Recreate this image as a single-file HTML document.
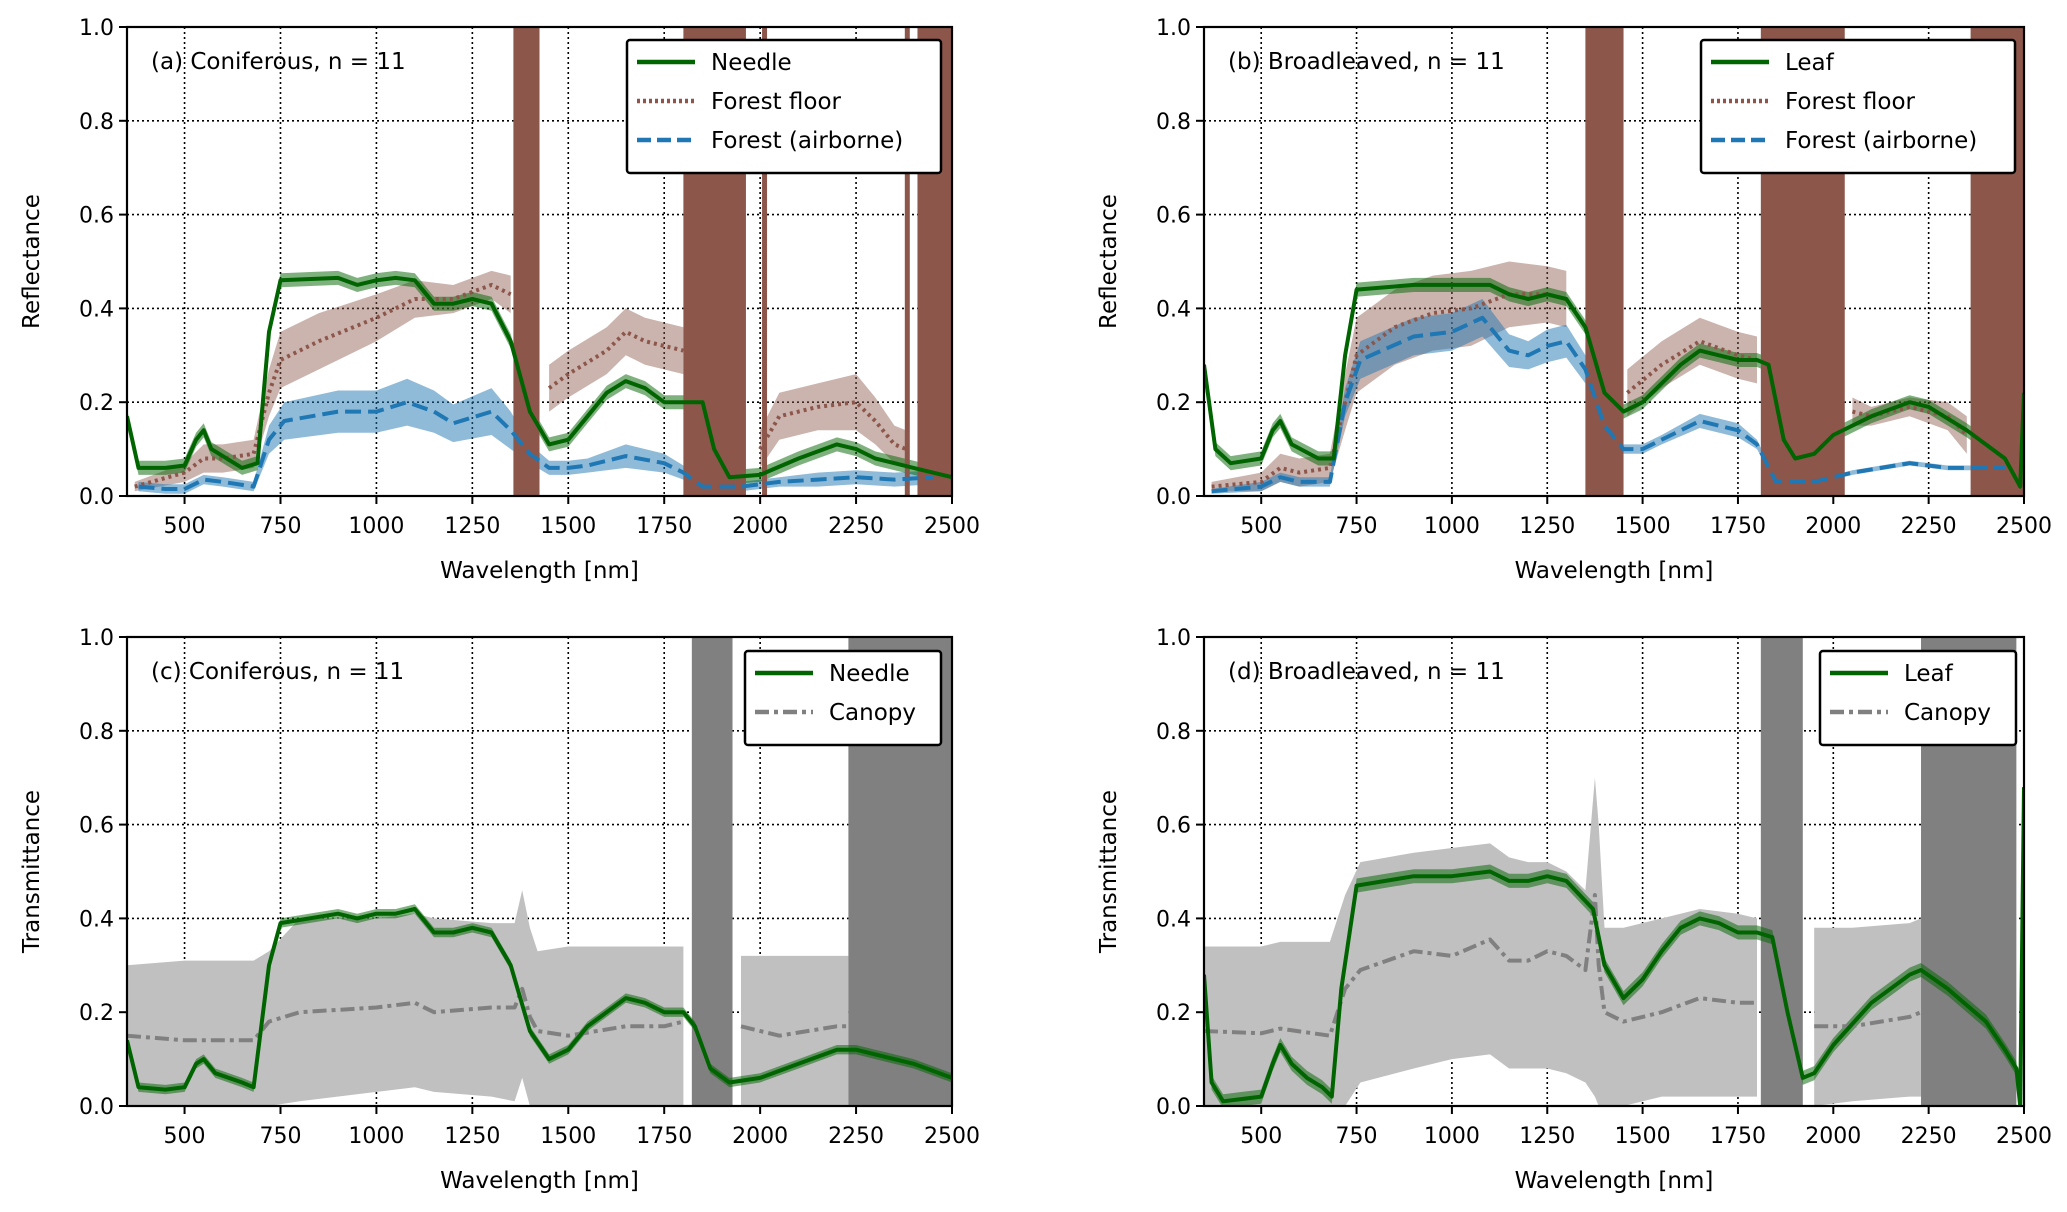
<!DOCTYPE html>
<html><head><meta charset="utf-8">
<style>
html,body{margin:0;padding:0;background:#fff;}
svg{display:block;font-family:"DejaVu Sans","Liberation Sans",sans-serif;}
</style></head>
<body>
<svg id="fig" width="2067" height="1212" viewBox="0 0 2067 1212" xmlns="http://www.w3.org/2000/svg"></svg>
<script>
// ---------- data ----------
const xTicks = [500,750,1000,1250,1500,1750,2000,2250,2500];
const yTicks = [0.0,0.2,0.4,0.6,0.8,1.0];
const yTickLabels = ["0.0","0.2","0.4","0.6","0.8","1.0"];

// Panel a
const aNeedleWl = [350,380,450,500,530,550,570,650,690,720,750,900,950,1000,1050,1100,1150,1200,1250,1300,1350,1400,1450,1500,1550,1600,1650,1700,1750,1800,1850,1880,1920,2000,2100,2200,2250,2300,2400,2500];
const aNeedle   = [0.17,0.06,0.06,0.065,0.12,0.14,0.10,0.06,0.07,0.35,0.46,0.465,0.45,0.46,0.465,0.46,0.41,0.41,0.42,0.41,0.33,0.18,0.11,0.12,0.17,0.22,0.245,0.23,0.20,0.20,0.20,0.10,0.04,0.045,0.08,0.11,0.10,0.08,0.06,0.04];
const aFloorWl = [370,500,550,600,680,720,750,850,1000,1100,1200,1300,1350,1360,1430,1450,1500,1600,1650,1700,1800,1810,1960,2000,2050,2150,2250,2300,2350,2380];
const aFloor   = [0.02,0.05,0.08,0.08,0.09,0.22,0.29,0.33,0.38,0.42,0.42,0.45,0.43,null,null,0.23,0.26,0.31,0.35,0.33,0.31,null,null,0.10,0.17,0.19,0.20,0.16,0.11,0.10];
const aFloorSd  = [0.01,0.02,0.03,0.03,0.03,0.05,0.06,0.06,0.05,0.04,0.03,0.03,0.04,null,null,0.05,0.05,0.05,0.05,0.05,0.05,null,null,0.04,0.05,0.05,0.06,0.05,0.04,0.04];
const aNoiseFloor = [[1357,1425],[1800,1963],[2005,2018],[2377,2390],[2410,2500]];
const aAirWl = [380,450,500,550,600,680,720,760,900,1000,1080,1150,1200,1300,1350,1400,1450,1500,1550,1650,1750,1800,1850,1950,2050,2150,2250,2350,2450];
const aAir   = [0.02,0.015,0.015,0.035,0.03,0.02,0.12,0.16,0.18,0.18,0.20,0.18,0.155,0.18,0.14,0.09,0.06,0.06,0.065,0.085,0.07,0.05,0.02,0.02,0.03,0.035,0.04,0.035,0.04];
const aAirSd = [0.01,0.01,0.01,0.01,0.01,0.01,0.03,0.04,0.045,0.045,0.05,0.045,0.04,0.05,0.04,0.02,0.015,0.015,0.015,0.025,0.02,0.015,0.01,0.01,0.01,0.015,0.015,0.015,0.015];

// Panel b
const bLeafWl = [350,380,420,500,530,550,580,650,690,720,750,900,1000,1100,1150,1200,1250,1300,1350,1400,1450,1500,1600,1650,1700,1750,1800,1830,1870,1900,1950,2000,2100,2200,2250,2350,2450,2490,2500];
const bLeaf   = [0.28,0.10,0.07,0.08,0.14,0.16,0.11,0.08,0.08,0.30,0.44,0.45,0.45,0.45,0.43,0.42,0.43,0.42,0.36,0.22,0.18,0.20,0.28,0.31,0.30,0.29,0.29,0.28,0.12,0.08,0.09,0.13,0.17,0.20,0.19,0.14,0.08,0.02,0.22];
const bFloorWl = [370,500,550,600,680,720,750,850,950,1050,1150,1250,1300,1350,1450,1460,1550,1650,1750,1800,1810,2030,2050,2100,2200,2300,2350];
const bFloor   = [0.02,0.03,0.06,0.05,0.06,0.20,0.30,0.36,0.39,0.40,0.43,0.43,0.42,null,null,0.22,0.28,0.33,0.30,0.29,null,null,0.18,0.17,0.19,0.17,0.13];
const bFloorSd = [0.01,0.02,0.03,0.03,0.03,0.06,0.08,0.08,0.08,0.08,0.07,0.06,0.06,null,null,0.05,0.05,0.05,0.05,0.05,null,null,0.03,0.02,0.02,0.03,0.04];
const bNoiseFloor = [[1350,1450],[1810,2030],[2360,2500]];
const bAirWl = [370,500,550,600,680,720,760,900,1000,1080,1150,1200,1250,1300,1350,1400,1450,1500,1550,1650,1750,1800,1850,1950,2050,2200,2300,2450];
const bAir   = [0.01,0.02,0.04,0.03,0.03,0.20,0.29,0.34,0.35,0.38,0.31,0.30,0.32,0.33,0.27,0.15,0.10,0.10,0.12,0.16,0.14,0.11,0.03,0.03,0.05,0.07,0.06,0.06];
const bAirSd = [0.005,0.01,0.01,0.01,0.01,0.03,0.04,0.04,0.04,0.04,0.035,0.03,0.035,0.035,0.03,0.015,0.01,0.01,0.01,0.015,0.015,0.01,0.005,0.005,0.005,0.005,0.005,0.005];

// Panel c
const cNeedleWl = [350,380,450,500,530,550,580,650,680,720,750,900,950,1000,1050,1100,1150,1200,1250,1300,1350,1400,1450,1500,1550,1600,1650,1700,1750,1800,1830,1870,1920,2000,2100,2200,2250,2300,2400,2500];
const cNeedle   = [0.14,0.04,0.035,0.04,0.09,0.10,0.07,0.05,0.04,0.30,0.39,0.41,0.40,0.41,0.41,0.42,0.37,0.37,0.38,0.37,0.30,0.16,0.10,0.12,0.17,0.20,0.23,0.22,0.20,0.20,0.17,0.08,0.05,0.06,0.09,0.12,0.12,0.11,0.09,0.06];
const cCanWl = [350,500,680,720,800,1000,1100,1150,1300,1360,1380,1400,1420,1500,1650,1750,1800,1820,1930,1950,2050,2200,2230];
const cCan   = [0.15,0.14,0.14,0.18,0.20,0.21,0.22,0.20,0.21,0.21,0.25,0.19,0.16,0.15,0.17,0.17,0.18,null,null,0.17,0.15,0.17,0.17];
const cCanHi = [0.30,0.31,0.31,0.33,0.40,0.40,0.41,0.40,0.39,0.39,0.46,0.38,0.33,0.34,0.34,0.34,0.34,null,null,0.32,0.32,0.32,0.32];
const cCanLo = [0.00,0.00,0.00,0.00,0.01,0.03,0.04,0.03,0.02,0.01,0.06,0.00,0.00,0.00,0.00,0.00,0.00,null,null,0.00,0.00,0.00,0.00];
const cNoise = [[1822,1928],[2230,2500]];

// Panel d
const dLeafWl = [350,370,400,450,500,530,550,580,620,660,685,710,750,900,1000,1100,1150,1200,1250,1300,1370,1400,1450,1500,1550,1600,1650,1700,1750,1800,1840,1880,1920,1950,2000,2100,2200,2230,2300,2400,2450,2480,2490,2500];
const dLeaf   = [0.28,0.05,0.01,0.015,0.02,0.09,0.13,0.09,0.06,0.04,0.02,0.25,0.47,0.49,0.49,0.50,0.48,0.48,0.49,0.48,0.42,0.30,0.23,0.27,0.33,0.38,0.40,0.39,0.37,0.37,0.36,0.20,0.06,0.07,0.13,0.22,0.28,0.29,0.25,0.18,0.12,0.08,0.00,0.68];
const dCanWl = [350,500,550,680,720,760,900,1000,1100,1150,1200,1250,1300,1350,1375,1385,1400,1450,1550,1650,1750,1800,1810,1920,1950,2050,2200,2230];
const dCan   = [0.16,0.155,0.165,0.15,0.25,0.29,0.33,0.32,0.355,0.31,0.31,0.33,0.32,0.29,0.45,0.30,0.20,0.18,0.20,0.23,0.22,0.22,null,null,0.17,0.17,0.19,0.20];
const dCanHi = [0.34,0.34,0.35,0.35,0.45,0.52,0.54,0.55,0.56,0.53,0.52,0.52,0.50,0.46,0.70,0.60,0.38,0.38,0.40,0.42,0.41,0.40,null,null,0.38,0.38,0.39,0.40];
const dCanLo = [0.00,0.00,0.00,0.00,0.00,0.05,0.08,0.10,0.11,0.08,0.08,0.08,0.07,0.05,0.02,0.00,0.00,0.00,0.02,0.02,0.02,0.02,null,null,0.00,0.01,0.02,0.02];
const dNoise = [[1810,1920],[2230,2480]];

// ---------- rendering ----------
const NS = "http://www.w3.org/2000/svg";
const svg = document.getElementById('fig');
function el(tag, attrs, parent){
  const e = document.createElementNS(NS, tag);
  for (const k in attrs) e.setAttribute(k, attrs[k]);
  (parent||svg).appendChild(e);
  return e;
}
const GREEN="#006400", BROWN="#8c564b", BLUE="#1f77b4", GRAY="#808080";

function makePanel(p){
  const g = el('g',{});
  
  
  const X = w => p.x0 + (w-350)/(2500-350)*(p.x1-p.x0);
  const Y = v => p.y1 - v*(p.y1-p.y0);
  const clipId = p.name+'-clip';
  const cp = el('clipPath',{id:clipId},g);
  el('rect',{x:p.x0,y:p.y0,width:p.x1-p.x0,height:p.y1-p.y0},cp);
  const grid = el('g',{},g);
  
  
  xTicks.forEach(t=>{ if(t<2500) el('line',{x1:X(t),x2:X(t),y1:p.y0,y2:p.y1,stroke:'#000','stroke-width':1.6,'stroke-dasharray':'2,3'},grid);});
  yTicks.forEach(t=>{ if(t>0&&t<1) el('line',{x1:p.x0,x2:p.x1,y1:Y(t),y2:Y(t),stroke:'#000','stroke-width':1.6,'stroke-dasharray':'2,3'},grid);});
  const plot = el('g',{'clip-path':'url(#'+clipId+')'},g);
  function segs(wl, vals){
    const out=[]; let cur=[];
    wl.forEach((w,i)=>{ if(vals[i]===null){ if(cur.length) out.push(cur); cur=[]; } else cur.push(i); });
    if(cur.length) out.push(cur); return out;
  }
  function band(name, wl, hi, lo, color, op){
    segs(wl, hi).forEach(s=>{
      let d = s.map((i,k)=>(k?'L':'M')+X(wl[i]).toFixed(1)+','+Y(hi[i]).toFixed(1)).join('');
      d += s.slice().reverse().map(i=>'L'+X(wl[i]).toFixed(1)+','+Y(lo[i]).toFixed(1)).join('')+'Z';
      const e = el('path',{d:d,fill:color,'fill-opacity':op,stroke:'none'},plot);
      
      
    });
  }
  function line(name, wl, v, color, dash, w){
    segs(wl, v).forEach(s=>{
      const d = s.map((i,k)=>(k?'L':'M')+X(wl[i]).toFixed(1)+','+Y(v[i]).toFixed(1)).join('');
      const e = el('path',{d:d,fill:'none',stroke:color,'stroke-width':w||4,'stroke-dasharray':dash||'none','stroke-linejoin':'round'},plot);
      
      
    });
  }
  function noise(name, ranges, color){
    ranges.forEach(r=>{
      const e = el('rect',{x:X(r[0]),y:p.y0,width:X(r[1])-X(r[0]),height:p.y1-p.y0,fill:color},plot);
      
      
    });
  }
  const sdArr=(m,s,sign)=>m.map((v,i)=>v===null?null:v+sign*s[i]);
  p.draw({band,line,noise,sdArr});
  const sp = el('rect',{x:p.x0,y:p.y0,width:p.x1-p.x0,height:p.y1-p.y0,fill:'none',stroke:'#000','stroke-width':2.2},g);
  
  
  xTicks.forEach(t=>{
    el('line',{x1:X(t),x2:X(t),y1:p.y1,y2:p.y1+8,stroke:'#000','stroke-width':2},g);
    const tx = el('text',{x:X(t),y:p.y1+37,'text-anchor':'middle','font-size':22,fill:'#000'},g);
    tx.textContent = t;
    
    
  });
  yTicks.forEach((t,i)=>{
    el('line',{x1:p.x0-8,x2:p.x0,y1:Y(t),y2:Y(t),stroke:'#000','stroke-width':2},g);
    const ty = el('text',{x:p.x0-13,y:Y(t)+8,'text-anchor':'end','font-size':22,fill:'#000'},g);
    ty.textContent = yTickLabels[i];
    
    
  });
  const xt = el('text',{x:(p.x0+p.x1)/2,y:p.y1+82,'text-anchor':'middle','font-size':23,fill:'#000'},g);
  xt.textContent='Wavelength [nm]';
  
  
  const yc=(p.y0+p.y1)/2, yx=p.x0-88;
  const yt = el('text',{x:yx,y:yc,'text-anchor':'middle','font-size':23,fill:'#000',transform:'rotate(-90 '+yx+' '+yc+')'},g);
  yt.textContent=p.ylabel;
  
  
  const tt = el('text',{x:p.x0+24,y:p.y0+42,'font-size':23,fill:'#000'},g);
  tt.textContent=p.title;
  
  
  const L = p.legend;
  const lg = el('g',{},g);
  
  
  el('rect',{x:L.x,y:L.y,width:L.w,height:16+L.items.length*39,fill:'#fff',stroke:'#000','stroke-width':2.5,rx:3},lg);
  L.items.forEach((it,i)=>{
    const yy = L.y+22+i*39;
    el('line',{x1:L.x+10,x2:L.x+68,y1:yy,y2:yy,stroke:it.c,'stroke-width':4.5,'stroke-dasharray':it.dash||'none'},lg);
    const t = el('text',{x:L.x+84,y:yy+8,'font-size':23,fill:'#000'},lg);
    t.textContent = it.label;
    
    
  });
}

const LX0=127, LX1=952, RX0=1204, RX1=2024;
const TY0=27, TY1=496, BY0=637, BY1=1106;

makePanel({name:'panel-a',x0:LX0,x1:LX1,y0:TY0,y1:TY1,ylabel:'Reflectance',title:'(a) Coniferous, n = 11',
  legend:{x:627,y:40,w:314,items:[{label:'Needle',c:GREEN},{label:'Forest floor',c:BROWN,dash:'3,3'},{label:'Forest (airborne)',c:BLUE,dash:'14,6'}]},
  draw:({band,line,noise,sdArr})=>{
    band('floor-band',aFloorWl,sdArr(aFloor,aFloorSd,1),sdArr(aFloor,aFloorSd,-1),BROWN,0.45);
    band('airborne-band',aAirWl,sdArr(aAir,aAirSd,1),sdArr(aAir,aAirSd,-1),BLUE,0.5);
    band('needle-band',aNeedleWl,aNeedle.map(v=>v+0.015),aNeedle.map(v=>v-0.015),GREEN,0.5);
    noise('floor-noise',aNoiseFloor,BROWN);
    line('floor-line',aFloorWl,aFloor,BROWN,'3,4',4);
    line('airborne-line',aAirWl,aAir,BLUE,'16,7',4);
    line('needle-line',aNeedleWl,aNeedle,GREEN,null,4);
  }});
makePanel({name:'panel-b',x0:RX0,x1:RX1,y0:TY0,y1:TY1,ylabel:'Reflectance',title:'(b) Broadleaved, n = 11',
  legend:{x:1701,y:40,w:314,items:[{label:'Leaf',c:GREEN},{label:'Forest floor',c:BROWN,dash:'3,3'},{label:'Forest (airborne)',c:BLUE,dash:'14,6'}]},
  draw:({band,line,noise,sdArr})=>{
    band('floor-band',bFloorWl,sdArr(bFloor,bFloorSd,1),sdArr(bFloor,bFloorSd,-1),BROWN,0.45);
    band('airborne-band',bAirWl,sdArr(bAir,bAirSd,1),sdArr(bAir,bAirSd,-1),BLUE,0.5);
    band('leaf-band',bLeafWl,bLeaf.map(v=>v+0.015),bLeaf.map(v=>v-0.015),GREEN,0.5);
    noise('floor-noise',bNoiseFloor,BROWN);
    line('floor-line',bFloorWl,bFloor,BROWN,'3,4',4);
    line('airborne-line',bAirWl,bAir,BLUE,'16,7',4);
    line('leaf-line',bLeafWl,bLeaf,GREEN,null,4);
  }});
makePanel({name:'panel-c',x0:LX0,x1:LX1,y0:BY0,y1:BY1,ylabel:'Transmittance',title:'(c) Coniferous, n = 11',
  legend:{x:745,y:651,w:196,items:[{label:'Needle',c:GREEN},{label:'Canopy',c:GRAY,dash:'14,5,4,5'}]},
  draw:({band,line,noise})=>{
    band('canopy-band',cCanWl,cCanHi,cCanLo,'#c0c0c0',1);
    noise('canopy-noise',cNoise,GRAY);
    band('needle-band',cNeedleWl,cNeedle.map(v=>v+0.01),cNeedle.map(v=>v-0.01),GREEN,0.5);
    line('canopy-line',cCanWl,cCan,GRAY,'14,5,4,5',4);
    line('needle-line',cNeedleWl,cNeedle,GREEN,null,4);
  }});
makePanel({name:'panel-d',x0:RX0,x1:RX1,y0:BY0,y1:BY1,ylabel:'Transmittance',title:'(d) Broadleaved, n = 11',
  legend:{x:1820,y:651,w:196,items:[{label:'Leaf',c:GREEN},{label:'Canopy',c:GRAY,dash:'14,5,4,5'}]},
  draw:({band,line,noise})=>{
    band('canopy-band',dCanWl,dCanHi,dCanLo,'#c0c0c0',1);
    noise('canopy-noise',dNoise,GRAY);
    band('leaf-band',dLeafWl,dLeaf.map(v=>v+0.015),dLeaf.map(v=>v-0.015),GREEN,0.5);
    line('canopy-line',dCanWl,dCan,GRAY,'14,5,4,5',4);
    line('leaf-line',dLeafWl,dLeaf,GREEN,null,4);
  }});
</script>
</body></html>
